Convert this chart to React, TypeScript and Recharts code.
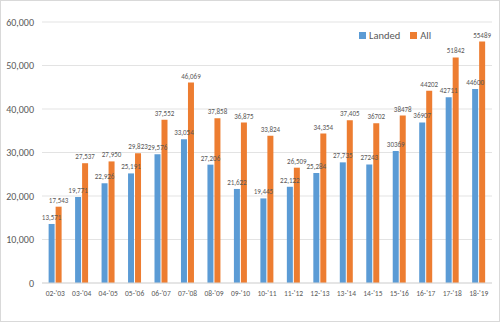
import React from 'react';
import { BarChart, Bar, XAxis, YAxis, CartesianGrid, Legend, LabelList } from 'recharts';

const categories = ["02-'03","03-'04","04-'05","05-'06","06-'07","07-'08","08-'09","09-'10","10-'11","11-'12","12-'13","13-'14","14-'15","15-'16","16-'17","17-'18","18-'19"];
const landed = [13571,19771,22926,25191,29576,33054,27206,21622,19445,22122,25284,27735,27243,30369,36907,42711,44600];
const all = [17543,27537,27950,29823,37552,46069,37858,36875,33824,26509,34354,37405,36702,38478,44202,51842,55489];
const landedLabels = ["13,571","19,771","22,926","25,191","29,576","33,054","27,206","21,622","19,445","22,122","25,284","27,735","27243","30369","36907","42711","44600"];
const allLabels = ["17,543","27,537","27,950","29,823","37,552","46,069","37,858","36,875","33,824","26,509","34,354","37,405","36702","38478","44202","51842","55489"];
const yTicks = [0,10000,20000,30000,40000,50000,60000];
const seriesNames = ["Landed", "All"];
const seriesColors = ["#5B9BD5", "#ED7D31"];

const data = categories.map((c, i) => ({ cat: c, Landed: landed[i], All: all[i], lL: landedLabels[i], aL: allLabels[i] }));

const fmt = (v: number) => v.toLocaleString('en-US');

const LegendContent = () => (
  <div style={{ display: 'flex', alignItems: 'center', fontSize: 10.5, color: '#595959' }}>
    {seriesNames.map((n, i) => (
      <div key={n} style={{ display: 'flex', alignItems: 'center', marginRight: 10 }}>
        <span style={{ display: 'inline-block', width: 7, height: 7, background: seriesColors[i], marginRight: 3 }} />
        <span>{n}</span>
      </div>
    ))}
  </div>
);

export default function App() {
  return (
    <div style={{ position: 'absolute', left: 0, top: 0, width: 498, height: 320, border: '1px solid #d9d9d9', background: '#fff', fontFamily: 'Calibri, Carlito, "Liberation Sans", sans-serif' }}>
      <BarChart width={498} height={320} data={data} margin={{ top: 8, right: 7, left: 0, bottom: 8 }} barCategoryGap="25%" barGap={1}>
        <CartesianGrid vertical={false} stroke="#e3e3e3" />
        <XAxis dataKey="cat" tickLine={false} axisLine={{ stroke: '#d9d9d9' }} tick={{ fontSize: 7.5, fill: '#595959' }} interval={0} height={30} />
        <YAxis domain={[0, 60000]} ticks={yTicks} tickFormatter={fmt} axisLine={false} tickLine={false} width={41} tick={{ fontSize: 10, fill: '#595959' }} />
        <Legend verticalAlign="top" content={<LegendContent />}
          wrapperStyle={{ position: 'absolute', top: 28, left: 358, width: 'auto' }} />
        <Bar dataKey="Landed" fill={seriesColors[0]} isAnimationActive={false}>
          <LabelList dataKey="lL" position="top" offset={4} style={{ fontSize: 7, fill: '#595959' }} />
        </Bar>
        <Bar dataKey="All" fill={seriesColors[1]} isAnimationActive={false}>
          <LabelList dataKey="aL" position="top" offset={4} style={{ fontSize: 7, fill: '#595959' }} />
        </Bar>
      </BarChart>
    </div>
  );
}
